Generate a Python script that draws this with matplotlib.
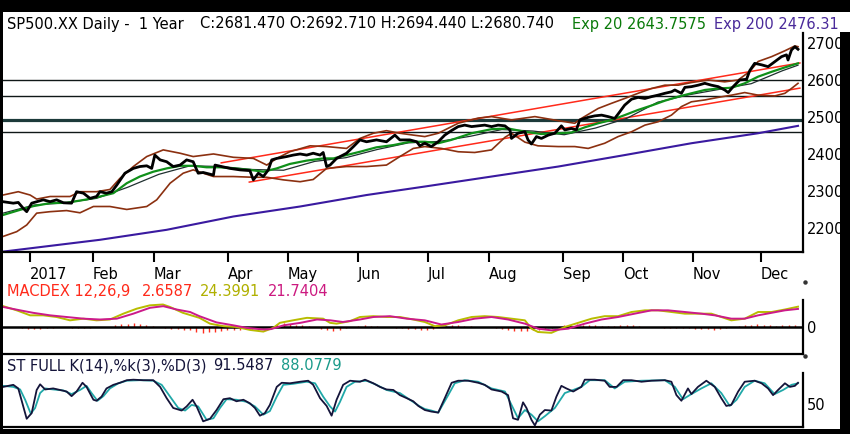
import matplotlib
matplotlib.use("Agg")
from matplotlib import pyplot as plt
from matplotlib.patches import Rectangle
from matplotlib.lines import Line2D

W, H = 850, 434

# x values are trading days counted from the first bar on the chart

month_starts = [8.7, 28.9, 48.4, 72.2, 91.4, 113.9, 136.3, 155.9, 179.6, 198.8, 221.3, 243.1]
month_names = ["2017", "Feb", "Mar", "Apr", "May", "Jun", "Jul", "Aug", "Sep", "Oct", "Nov", "Dec"]

price_ticks = [2200, 2300, 2400, 2500, 2600, 2700]

close_day = [0, 3.3, 4.9, 6.5, 7.6, 9.2, 10.8, 12.9, 15.1, 17.2,
             19.4, 22.0, 23.6, 25.8, 27.9, 30.0, 31.1, 33.2, 34.9, 36.5,
             39.1, 41.8, 43.9, 46.1, 47.7, 48.7, 50.4, 52.5, 54.6, 56.8,
             58.9, 61.0, 62.6, 64.2, 67.5, 68.0, 70.1, 72.8, 76.0, 79.2,
             80.3, 81.9, 83.5, 85.1, 86.2, 87.8, 91.0, 93.1, 95.3, 97.4,
             99.5, 101.7, 102.7, 103.8, 104.9, 107.0, 110.2, 112.4, 114.5, 116.6,
             119.8, 123.0, 125.7, 127.3, 130.5, 132.7, 133.7, 135.3, 137.4, 139.6,
             141.7, 143.8, 146.0, 148.1, 150.3, 152.4, 154.5, 156.7, 158.8, 161.0,
             162.6, 163.1, 165.2, 167.4, 168.4, 169.5, 171.1, 172.7, 174.9, 177.0,
             179.1, 180.2, 182.3, 183.9, 185.0, 187.7, 189.8, 192.0, 194.1, 196.2,
             197.3, 199.4, 201.6, 203.7, 205.9, 208.0, 210.1, 212.3, 214.4, 215.5,
             217.6, 218.7, 220.8, 223.0, 225.1, 227.2, 229.4, 231.5, 232.6, 234.2,
             236.3, 238.5, 239.5, 241.1, 243.3, 245.4, 247.6, 249.7, 251.3, 251.8,
             252.9, 254.0, 255.0]
close_val = [2271, 2267, 2269, 2253, 2244, 2267, 2271, 2276, 2271, 2276,
             2268, 2267, 2298, 2294, 2280, 2285, 2298, 2294, 2298, 2316,
             2348, 2361, 2366, 2368, 2361, 2397, 2384, 2379, 2366, 2370,
             2384, 2379, 2348, 2350, 2343, 2370, 2366, 2361, 2357, 2355,
             2330, 2348, 2339, 2357, 2384, 2388, 2393, 2397, 2400, 2397,
             2402, 2397, 2404, 2366, 2370, 2388, 2402, 2420, 2438, 2433,
             2438, 2433, 2451, 2438, 2438, 2433, 2422, 2429, 2420, 2433,
             2451, 2463, 2474, 2478, 2474, 2476, 2478, 2474, 2478, 2476,
             2465, 2442, 2456, 2460, 2438, 2427, 2447, 2442, 2451, 2456,
             2476, 2465, 2469, 2465, 2492, 2499, 2503, 2505, 2501, 2496,
             2508, 2532, 2548, 2553, 2550, 2555, 2559, 2564, 2568, 2573,
             2564, 2580, 2582, 2586, 2591, 2586, 2582, 2573, 2566, 2582,
             2600, 2602, 2625, 2645, 2641, 2636, 2650, 2663, 2668, 2654,
             2681, 2690, 2683]

ema20_day = [0, 5.5, 9.7, 15.1, 20.4, 26.8, 31.1, 35.4, 39.7, 43.9,
             48.2, 52.5, 56.8, 61.0, 65.3, 69.6, 73.9, 79.2, 83.5, 87.8,
             92.0, 97.4, 102.7, 106.0, 110.2, 114.5, 119.8, 125.2, 130.5, 135.3,
             139.6, 143.8, 150.3, 156.7, 162.0, 167.4, 172.7, 178.1, 182.3, 186.6,
             190.9, 195.2, 199.4, 203.7, 208.0, 212.3, 216.6, 220.8, 225.1, 229.4,
             233.7, 237.9, 242.2, 246.5, 250.8, 255.0]
ema20_val = [2235, 2249, 2259, 2267, 2268, 2277, 2285, 2294, 2321, 2339,
             2352, 2361, 2368, 2368, 2364, 2364, 2361, 2357, 2352, 2361,
             2373, 2382, 2388, 2388, 2397, 2406, 2418, 2424, 2433, 2433,
             2429, 2438, 2456, 2467, 2469, 2460, 2454, 2456, 2458, 2472,
             2483, 2492, 2505, 2519, 2531, 2544, 2555, 2564, 2573, 2577,
             2579, 2591, 2609, 2622, 2634, 2645]

mid_day = [0, 10, 20, 30, 40, 50, 60, 70, 80, 90, 100, 110, 120, 130,
           140, 150, 160, 170, 180, 190, 200, 210, 220, 230, 240, 250, 255]
mid_val = [2240, 2262, 2268, 2280, 2310, 2345, 2368, 2366, 2358, 2356, 2380, 2390, 2412, 2430,
           2434, 2448, 2466, 2462, 2452, 2470, 2496, 2540, 2560, 2575, 2590, 2625, 2640]

upper_day = [0, 4.9, 8.7, 10.8, 15.1, 21.5, 24.7, 30.0, 34.3, 37.5,
             41.8, 46.1, 51.4, 56.8, 61.0, 67.5, 73.9, 80.3, 84.6, 87.8,
             92.0, 98.5, 103.8, 110.2, 114.5, 118.8, 123.0, 127.3, 131.6, 135.3,
             139.6, 146.0, 152.4, 156.7, 163.1, 170.6, 178.1, 183.4, 185.5, 190.9,
             195.2, 199.4, 203.7, 208.0, 212.3, 216.6, 220.8, 226.2, 231.5, 235.8,
             239.5, 242.2, 246.5, 250.8, 254.0, 255.0]
upper_val = [2289, 2298, 2289, 2278, 2285, 2285, 2298, 2298, 2304, 2334,
             2366, 2393, 2411, 2402, 2393, 2400, 2391, 2388, 2370, 2388,
             2406, 2422, 2420, 2415, 2442, 2456, 2463, 2456, 2451, 2447,
             2456, 2483, 2497, 2501, 2492, 2501, 2490, 2483, 2496, 2523,
             2537, 2550, 2564, 2577, 2586, 2586, 2593, 2600, 2595, 2600,
             2623, 2650, 2663, 2679, 2692, 2690]

lower_day = [0, 4.4, 7.6, 10.8, 15.1, 20.4, 24.7, 29.0, 34.3, 39.7,
             46.1, 49.3, 53.6, 57.8, 61.0, 67.5, 73.9, 80.3, 84.6, 89.9,
             95.3, 99.5, 103.8, 110.2, 116.6, 123.0, 127.3, 131.6, 135.3, 140.6,
             146.0, 151.3, 156.7, 161.0, 163.1, 167.4, 171.6, 178.1, 183.4, 187.7,
             193.0, 197.3, 201.6, 205.9, 210.1, 214.4, 217.6, 220.8, 225.1, 229.4,
             233.7, 237.9, 242.2, 247.6, 250.8, 252.9, 255.0]
lower_val = [2177, 2190, 2208, 2240, 2244, 2247, 2241, 2258, 2258, 2250,
             2258, 2276, 2321, 2348, 2357, 2339, 2339, 2337, 2337, 2330,
             2325, 2331, 2361, 2366, 2366, 2370, 2393, 2415, 2420, 2415,
             2406, 2404, 2411, 2445, 2456, 2432, 2422, 2420, 2420, 2415,
             2429, 2447, 2460, 2478, 2487, 2505, 2528, 2541, 2546, 2553,
             2559, 2566, 2559, 2557, 2564, 2577, 2591]

ema200_day = [0, 31.1, 52.5, 73.9, 95.3, 116.6, 135.3, 156.7, 178.1, 199.4, 220.8, 242.2, 255.0]
ema200_val = [2136, 2168, 2195, 2231, 2258, 2289, 2312, 2339, 2366, 2397, 2429, 2456, 2476]

# trend channel drawn on the chart: (start day, start value, end day, end value)
channel_top = [70, 2376, 255.6, 2646]
channel_bottom = [79, 2324, 255.6, 2578]

levels_thin = [2600, 2557, 2460]
level_thick = 2492

macd_day = [0.1, 4.4, 8.7, 12.9, 17.2, 21.5, 25.8, 30.0, 34.3, 38.6,
            42.9, 47.1, 51.3, 53.6, 57.7, 63.0, 66.4, 70.7, 74.9, 79.2,
            83.5, 86.7, 88.8, 93.0, 97.5, 102.7, 104.9, 107.0, 111.3, 114.5,
            118.8, 123.0, 127.3, 131.6, 135.3,
            138.5, 141.7, 146.0, 150.3, 154.5, 158.8, 163.1, 167.4, 169.5, 171.6,
            175.9, 180.2, 184.5, 188.8, 193.0, 197.3, 201.6, 205.9, 210.1, 214.4,
            218.7, 222.9, 227.2, 230.4, 233.6, 237.9, 242.2, 246.5, 250.8, 255.0]
macd_val = [25, 20, 14, 14, 12, 8, 10, 8, 9, 16,
            22, 26, 27, 24, 17, 11, 4, 1, 0, -3.5,
            -5.5, -1, 5, 8, 11, 10, 5, 4, 7, 12,
            13, 12, 12, 9, 6,
            1, 2, 8, 12, 13, 12, 10, 8, -2, -6,
            -7, 0, 5, 10, 13, 13, 18, 20, 20, 18,
            16, 16, 16, 12, 8, 10, 18, 18, 21, 24.4]

signal_day = [0.1, 5.5, 9.7, 15.1, 20.4, 25.8, 31.1, 36.5, 41.8, 47.1,
              51.4, 55.7, 60.0, 63.0, 68.5, 73.9, 78.1, 83.5, 86.0, 90.0,
              95.4, 100.7, 105.0, 109.0, 114.5, 118.8, 124.1, 129.5, 135.3,
              140.6, 146.0, 151.3, 156.7, 162.0, 167.4, 171.6, 175.9, 181.3, 186.6,
              192.0, 197.3, 202.6, 208.0, 213.3, 218.7, 224.0, 228.3, 233.6, 237.9,
              242.2, 246.5, 250.8, 255.0]
signal_val = [24, 20, 17, 14, 12, 10, 9, 10, 16, 23,
              25, 21, 18, 13, 5.5, 2, -1, -3, -2.5, 2,
              5, 9, 8, 6, 9, 12, 13, 10, 8,
              3, 6, 10, 12, 9, 4, -2, -4, -2, 4,
              9, 12, 16, 20, 20, 18, 16, 14, 10, 10,
              14, 17, 20, 21.7]

# histogram, one value every second trading day from day 0
hist_val = [0.5, 0.5, 0, -1.5, -2, -2.5, -2, -1.5, -1, -0.5, -0.5, -1, -1.5, -1, -1, -0.5,
            0, 0.5, 2, 3.5, 4, 4.5, 4, 3, 1.5, 0.5, -1, -2, -2.5, -3, -4, -5.5,
            -7, -6.5, -6, -5, -4, -3.5, -3, -2.5, -2, -1.5, -0.5, 1.5, 3.5, 4.5, 4, 3,
            2, 1, -0.5, -2, -4, -4.5, -3, -1.5, 0.5, 1.5, 2, 1.5, 1, 0, -0.5, -1,
            -1.5, -2, -2.5, -3, -3.5, -2.5, 0.5, 1.5, 2, 2, 1.5, 1, 0.5, 0, -0.5, -1.5,
            -2.5, -3.5, -4.5, -5, -4.5, -4, -3.5, -2.5, -1, 0.5, 2, 3, 3.5, 3, 2.5, 2,
            1.5, 1, 1.5, 2, 2.5, 2, 1, 0.5, 0, -0.5, -1, -1, -1.5, -1.5, -1.5, -2,
            -2, -2.5, -3, -2.5, -1.5, 0, 1, 2, 3, 3.5, 3, 2, 1.5, 2, 2.5, 2.7]
hist_day = list(range(0, 2 * len(hist_val), 2))

k_day = [0.1, 3.3, 4.9, 6.5, 7.6, 9.2, 10.8, 11.9, 13.5, 16.1,
         18.3, 20.4, 22.0, 23.6, 25.5, 26.8, 29.0, 30.0, 31.6, 33.2,
         35.4, 37.5, 39.7, 41.8, 45.0, 48.2, 50.4, 52.5, 54.6, 57.3,
         58.9, 60.8, 62.1, 64.2, 66.4, 68.5, 70.7, 72.8, 74.9, 77.1,
         79.2, 80.8, 82.4, 84.0, 85.6, 87.8, 89.4, 92.0, 95.3, 97.9,
         99.5, 101.7, 103.8, 105.4, 107.0, 109.1, 111.3, 114.5, 116.1, 118.8,
         120.9, 123.0, 125.2, 127.3, 129.5, 131.6, 133.2, 135.3,
         137.4, 139.6, 141.7, 143.9, 146.0, 149.2, 152.4, 154.5, 156.7, 159.9,
         162.0, 163.6, 165.2, 166.8, 167.9, 169.5, 170.6, 172.2, 173.8, 175.9,
         177.5, 179.1, 180.7, 182.9, 185.5, 186.6, 189.8, 193.0, 194.6, 196.8,
         198.9, 201.6, 204.8, 208.0, 212.3, 214.4, 216.0, 217.6, 219.7, 220.8,
         222.9, 225.6, 228.3, 230.4, 232.0, 233.6, 235.8, 237.9, 241.1, 243.3,
         245.4, 247.0, 248.6, 250.8, 252.4, 254.0, 255.0]
k_val = [83, 87, 80, 45, 21, 32, 77, 88, 78, 80,
         77, 74, 65, 74, 91, 83, 58, 56, 64, 80,
         87, 91, 96, 97, 96, 96, 83, 61, 42, 37,
         45, 58, 45, 16, 21, 38, 59, 61, 55, 58,
         51, 42, 27, 32, 48, 83, 91, 90, 93, 95,
         87, 61, 46, 27, 58, 87, 95, 93, 97, 90,
         83, 78, 77, 67, 61, 55, 46, 38,
         35, 33, 61, 91, 95, 95, 91, 87, 78, 74,
         67, 22, 19, 53, 42, 19, 8, 29, 38, 37,
         64, 85, 80, 74, 83, 97, 97, 95, 83, 83,
         96, 96, 93, 95, 96, 93, 67, 56, 80, 69,
         83, 95, 83, 61, 46, 48, 74, 93, 95, 90,
         80, 67, 77, 90, 83, 85, 91]

d_day = [0.1, 3.3, 5.5, 7.1, 8.9, 10.3, 11.9, 13.5, 16.1, 19.4,
         22.0, 24.7, 26.8, 28.4, 30.3, 32.2, 34.3, 37.0, 39.7, 43.9,
         48.2, 50.9, 53.6, 56.2, 58.4, 60.5, 62.6, 65.3, 67.5, 69.6,
         71.7, 74.9, 78.1, 80.8, 83.5, 85.6, 87.8, 89.9, 93.1, 97.4,
         100.1, 102.7, 104.9, 106.5, 108.1, 110.2, 112.9, 116.6, 119.8, 123.0,
         127.3, 130.5, 133.7, 135.3,
         137.4, 139.6, 142.8, 144.9, 148.1, 152.4, 156.7, 161.0, 163.1, 165.2,
         167.4, 169.5, 171.6, 173.8, 177.0, 180.2, 182.9, 185.5, 188.2, 193.0,
         196.2, 199.4, 204.8, 212.3, 215.5, 218.1, 220.8, 224.0, 227.2, 230.4,
         233.1, 235.3, 237.9, 241.1, 244.3, 247.5, 250.2, 252.9, 255.0]
d_val = [85, 83, 78, 58, 31, 42, 71, 80, 78, 76,
         69, 77, 85, 71, 56, 65, 80, 90, 95, 96,
         95, 87, 64, 42, 37, 48, 45, 19, 22, 42,
         59, 58, 54, 45, 29, 36, 64, 87, 89, 93,
         90, 64, 45, 35, 54, 83, 93, 95, 87, 77,
         71, 58, 45, 40,
         37, 33, 67, 90, 96, 93, 80, 74, 48, 22,
         38, 29, 16, 26, 42, 71, 77, 83, 96, 96,
         80, 93, 95, 96, 83, 59, 69, 80, 90, 71,
         46, 58, 83, 95, 90, 69, 77, 87, 90]

x_end = 256.6


def fig_box(x0, y0, x1, y1):
    # pixel box measured from the top-left corner -> figure fractions
    return [x0 / W, 1 - y1 / H, (x1 - x0) / W, (y1 - y0) / H]


def text_run(y, pieces, size=10.5):
    # pieces: (x, text, colour); a piece is pushed right if the one before runs into it
    renderer = fig.canvas.get_renderer()
    right = 0
    for x, s, color in pieces:
        x = max(x, right + 7)
        t = fig.text(x / W, 1 - y / H, s, color=color, fontsize=size, va='center', ha='left')
        right = t.get_window_extent(renderer).x1


def style_panel(ax, ticks, labels):
    ax.set_facecolor('white')
    ax.spines['top'].set_visible(False)
    ax.spines['left'].set_visible(False)
    ax.spines['right'].set_linewidth(1.6)
    ax.spines['bottom'].set_linewidth(1.6)
    ax.yaxis.tick_right()
    ax.set_yticks(ticks)
    ax.set_yticklabels(labels)
    ax.tick_params(axis='y', length=0, pad=3, labelsize=10.5)
    ax.set_xlim(0, x_end)


fig = plt.figure(figsize=(W / 100, H / 100), dpi=100, facecolor='black')
fig.add_artist(Rectangle((3 / W, 1 - 429 / H), 837 / W, 417 / H, transform=fig.transFigure,
                         facecolor='white', edgecolor='none', zorder=-5))
fig.add_artist(Rectangle((3 / W, 1 - 32 / H), 847 / W, 20 / H, transform=fig.transFigure,
                         facecolor='white', edgecolor='none', zorder=-5))

# ---- price panel ----
ax = fig.add_axes(fig_box(3, 33, 803, 252))
style_panel(ax, price_ticks, [str(t) for t in price_ticks])
ax.set_ylim(2135, 2727)
for lv in levels_thin:
    ax.axhline(lv, color='#101818', lw=1.0, zorder=1)
ax.axhline(level_thick, color='#1c3a3a', lw=2.3, zorder=1)
ax.plot(channel_top[0::2], channel_top[1::2], color='#ff2a1a', lw=1.1, zorder=2)
ax.plot(channel_bottom[0::2], channel_bottom[1::2], color='#ff2a1a', lw=1.1, zorder=2)
ax.plot(ema200_day, ema200_val, color='#3a1aa0', lw=1.5, zorder=2)
ax.plot(upper_day, upper_val, color='#8b3010', lw=1.2, zorder=3)
ax.plot(lower_day, lower_val, color='#8b3010', lw=1.2, zorder=3)
ax.plot(mid_day, mid_val, color='#203030', lw=0.9, zorder=3)
ax.plot(ema20_day, ema20_val, color='#10901a', lw=1.6, zorder=4)
ax.plot(close_day, close_val, color='black', lw=2.0, zorder=5)
ax.set_xticks(month_starts)
ax.set_xticklabels(month_names, ha='left')
ax.tick_params(axis='x', direction='out', length=7, width=1.5, pad=3.5, labelsize=10.5)

text_run(24, [(5, "SP500.XX Daily -  1 Year", 'black'),
              (200, "C:2681.470 O:2692.710 H:2694.440 L:2680.740", 'black'),
              (572, "Exp 20 2643.7575", '#0a7a0a'),
              (714, "Exp 200 2476.31", '#4a2a9a')])

# ---- MACD panel ----
ax2 = fig.add_axes(fig_box(3, 300, 803, 354))
style_panel(ax2, [0], ["0"])
ax2.set_ylim(-32.4, 32.4)
ax2.set_xticks([])
ax2.vlines(hist_day, 0, hist_val, color='#ff3020', lw=1.0, zorder=1)
ax2.axhline(0, color='black', lw=1.8, zorder=2)
ax2.plot(macd_day, macd_val, color='#b8bc00', lw=1.4, zorder=3)
ax2.plot(signal_day, signal_val, color='#cc1a8a', lw=1.4, zorder=4)

text_run(292, [(5, "MACDEX 12,26,9", '#ff2a1a'),
               (142, "2.6587", '#ff2a1a'),
               (199, "24.3991", '#b0b000'),
               (267, "21.7404", '#cc1a80')])

# ---- stochastic panel ----
ax3 = fig.add_axes(fig_box(3, 373, 803, 427))
style_panel(ax3, [50], ["50"])
ax3.set_ylim(5, 110)
ax3.set_xticks([])
ax3.plot(d_day, d_val, color='#20a8a8', lw=1.3, zorder=2)
ax3.plot(k_day, k_val, color='#14143a', lw=1.3, zorder=3)

text_run(366, [(5, "ST FULL K(14),%k(3),%D(3)", '#14143a'),
               (205, "91.5487", '#14143a'),
               (275, "88.0779", '#1a9a8a')])

for y in [282, 356]:
    fig.add_artist(Line2D([805 / W], [1 - y / H], marker='o', ms=2.2, color='#333333',
                          transform=fig.transFigure))

fig.savefig("out.png", dpi=100, facecolor='black')
